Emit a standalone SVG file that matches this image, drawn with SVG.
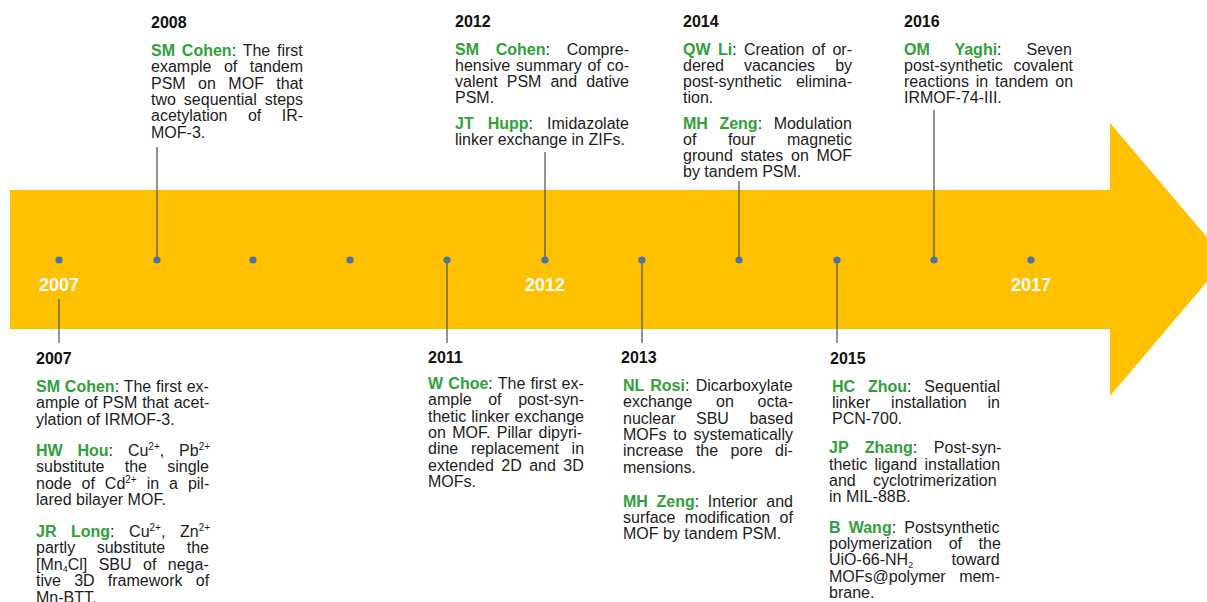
<svg xmlns="http://www.w3.org/2000/svg" width="1207" height="602" viewBox="0 0 1207 602">
<style>
text{font-family:"Liberation Sans",Arial,Helvetica,sans-serif;font-size:16px;fill:#1c1c1c}
.h{font-weight:bold;fill:#111}
.n{font-weight:bold;fill:#30a03a}
.s{font-size:10px}
.b{font-size:9px}
.y{font-size:18px;font-weight:bold;fill:#ffffff;text-anchor:middle}
.c{stroke:#5a5a5a;stroke-width:1.3}
.d{fill:#4a74a6}
</style>
<rect width="1207" height="602" fill="#ffffff"/>
<g id="timeline">
<polygon points="10,190 1110,190 1110,123 1226,259.5 1110,396 1110,329 10,329" fill="#FFC000"/>
<text class="y" x="59" y="291">2007</text>
<text class="y" x="545" y="291">2012</text>
<text class="y" x="1031" y="291">2017</text>
</g>
<g id="connectors">
<line class="c" x1="157" y1="147" x2="157" y2="260"/>
<line class="c" x1="545" y1="152" x2="545" y2="260"/>
<line class="c" x1="739" y1="181" x2="739" y2="260"/>
<line class="c" x1="934" y1="110" x2="934" y2="260"/>
<line class="c" x1="59" y1="299" x2="59" y2="343"/>
<line class="c" x1="447" y1="260" x2="447" y2="343"/>
<line class="c" x1="642" y1="260" x2="642" y2="343"/>
<line class="c" x1="837" y1="260" x2="837" y2="343"/>
</g>
<g id="dots">
<circle class="d" cx="59" cy="260" r="3.6"/>
<circle class="d" cx="157" cy="260" r="3.6"/>
<circle class="d" cx="253" cy="260" r="3.6"/>
<circle class="d" cx="350" cy="260" r="3.6"/>
<circle class="d" cx="447" cy="260" r="3.6"/>
<circle class="d" cx="545" cy="260" r="3.6"/>
<circle class="d" cx="642" cy="260" r="3.6"/>
<circle class="d" cx="739" cy="260" r="3.6"/>
<circle class="d" cx="837" cy="260" r="3.6"/>
<circle class="d" cx="934" cy="260" r="3.6"/>
<circle class="d" cx="1031" cy="260" r="3.6"/>
</g>
<g id="n2008">
<text class="h" x="151" y="28">2008</text>
<text x="151" y="56" style="word-spacing:2.4px"><tspan class="n">SM Cohen</tspan>: The first</text>
<text x="151" y="72.3" style="word-spacing:8px">example of tandem</text>
<text x="151" y="88.6" style="word-spacing:8px">PSM on MOF that</text>
<text x="151" y="105" style="word-spacing:3.5px">two sequential steps</text>
<text x="151" y="121.3" style="word-spacing:16px">acetylation of IR-</text>
<text x="151" y="137.6">MOF-3.</text>
</g>
<g id="n2012">
<text class="h" x="455" y="27">2012</text>
<text x="455" y="55" style="word-spacing:12.3px"><tspan class="n">SM Cohen</tspan>: Compre-</text>
<text x="455" y="71" style="word-spacing:1.4px">hensive summary of co-</text>
<text x="455" y="87" style="word-spacing:4.6px">valent PSM and dative</text>
<text x="455" y="103">PSM.</text>
<text x="455" y="129" style="word-spacing:9.6px"><tspan class="n">JT Hupp</tspan>: Imidazolate</text>
<text x="455" y="145">linker exchange in ZIFs.</text>
</g>
<g id="n2014">
<text class="h" x="683" y="27">2014</text>
<text x="683" y="55" style="word-spacing:2.9px"><tspan class="n">QW Li</tspan>: Creation of or-</text>
<text x="683" y="71" style="word-spacing:15.6px">dered vacancies by</text>
<text x="683" y="87" style="word-spacing:9.8px">post-synthetic elimina-</text>
<text x="683" y="103">tion.</text>
<text x="683" y="129" style="word-spacing:7.1px"><tspan class="n">MH Zeng</tspan>: Modulation</text>
<text x="683" y="145" style="word-spacing:27.1px">of four magnetic</text>
<text x="683" y="161" style="word-spacing:3.3px">ground states on MOF</text>
<text x="683" y="177">by tandem PSM.</text>
</g>
<g id="n2016">
<text class="h" x="904" y="27">2016</text>
<text x="904" y="55" style="word-spacing:20.5px"><tspan class="n">OM Yaghi</tspan>: Seven</text>
<text x="904" y="71" style="word-spacing:6.3px">post-synthetic covalent</text>
<text x="904" y="87" style="word-spacing:2.4px">reactions in tandem on</text>
<text x="904" y="103">IRMOF-74-III.</text>
</g>
<g id="n2007">
<text class="h" x="36" y="364">2007</text>
<text x="36" y="392" style="word-spacing:0.4px"><tspan class="n">SM Cohen</tspan>: The first ex-</text>
<text x="36" y="408.3" style="word-spacing:0.4px">ample of PSM that acet-</text>
<text x="36" y="424.6">ylation of IRMOF-3.</text>
<text x="36" y="456" style="word-spacing:10.4px"><tspan class="n">HW Hou</tspan>: Cu<tspan class="s" dy="-6">2+</tspan><tspan dy="6">, Pb</tspan><tspan class="s" dy="-6">2+</tspan></text>
<text x="36" y="472.3" style="word-spacing:15.8px">substitute the single</text>
<text x="36" y="488.6" style="word-spacing:5.5px">node of Cd<tspan class="s" dy="-6">2+</tspan><tspan dy="6"> in a pil-</tspan></text>
<text x="36" y="505">lared bilayer MOF.</text>
<text x="36" y="537" style="word-spacing:10.1px"><tspan class="n">JR Long</tspan>: Cu<tspan class="s" dy="-6">2+</tspan><tspan dy="6">, Zn</tspan><tspan class="s" dy="-6">2+</tspan></text>
<text x="36" y="553.3" style="word-spacing:17.1px">partly substitute the</text>
<text x="36" y="569.6" style="word-spacing:7px">[Mn<tspan class="b" dy="2.5">4</tspan><tspan dy="-2.5">Cl] SBU of nega-</tspan></text>
<text x="36" y="586" style="word-spacing:8.8px">tive 3D framework of</text>
<text x="36" y="602.5">Mn-BTT.</text>
</g>
<g id="n2011">
<text class="h" x="428" y="363">2011</text>
<text x="428" y="389" style="word-spacing:0.8px"><tspan class="n">W Choe</tspan>: The first ex-</text>
<text x="428" y="405.3" style="word-spacing:12.2px">ample of post-syn-</text>
<text x="428" y="421.6" style="word-spacing:0.6px">thetic linker exchange</text>
<text x="428" y="438" style="word-spacing:1.9px">on MOF. Pillar dipyri-</text>
<text x="428" y="454.3" style="word-spacing:8.2px">dine replacement in</text>
<text x="428" y="470.6" style="word-spacing:3px">extended 2D and 3D</text>
<text x="428" y="487">MOFs.</text>
</g>
<g id="n2013">
<text class="h" x="621" y="363">2013</text>
<text x="623" y="391" style="word-spacing:1.8px"><tspan class="n">NL Rosi</tspan>: Dicarboxylate</text>
<text x="623" y="407.3" style="word-spacing:19.2px">exchange on octa-</text>
<text x="623" y="423.6" style="word-spacing:16.1px">nuclear SBU based</text>
<text x="623" y="440" style="word-spacing:2.3px">MOFs to systematically</text>
<text x="623" y="456.3" style="word-spacing:8px">increase the pore di-</text>
<text x="623" y="472.6">mensions.</text>
<text x="623" y="506.7" style="word-spacing:4.2px"><tspan class="n">MH Zeng</tspan>: Interior and</text>
<text x="623" y="523" style="word-spacing:4.9px">surface modification of</text>
<text x="623" y="539.3">MOF by tandem PSM.</text>
</g>
<g id="n2015">
<text class="h" x="830" y="364">2015</text>
<text x="832" y="391.7" style="word-spacing:8.4px"><tspan class="n">HC Zhou</tspan>: Sequential</text>
<text x="832" y="408" style="word-spacing:16.4px">linker installation in</text>
<text x="832" y="424.3">PCN-700.</text>
<text x="829" y="453.3" style="word-spacing:12.1px"><tspan class="n">JP Zhang</tspan>: Post-syn-</text>
<text x="829" y="469.6" style="word-spacing:2.8px">thetic ligand installation</text>
<text x="829" y="486" style="word-spacing:12.8px">and cyclotrimerization</text>
<text x="829" y="502.3">in MIL-88B.</text>
<text x="829" y="532.7" style="word-spacing:3.7px"><tspan class="n">B Wang</tspan>: Postsynthetic</text>
<text x="829" y="549" style="word-spacing:12.1px">polymerization of the</text>
<text x="829" y="565.3" style="word-spacing:34px">UiO-66-NH<tspan class="b" dy="2.5">2</tspan><tspan dy="-2.5"> toward</tspan></text>
<text x="829" y="581.6" style="word-spacing:9px">MOFs@polymer mem-</text>
<text x="829" y="598">brane.</text>
</g>
</svg>
